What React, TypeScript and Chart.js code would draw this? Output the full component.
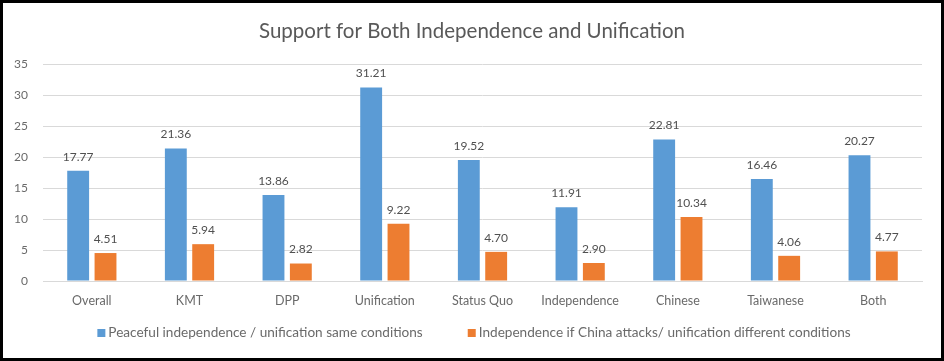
import React, { useEffect, useRef } from "react";
import { Chart, registerables } from "chart.js";

Chart.register(...registerables);

const categories = ["Overall", "KMT", "DPP", "Unification", "Status Quo", "Independence", "Chinese", "Taiwanese", "Both"];
const peacefulValues = [17.77, 21.36, 13.86, 31.21, 19.52, 11.91, 22.81, 16.46, 20.27];
const attackValues = [4.51, 5.94, 2.82, 9.22, 4.7, 2.9, 10.34, 4.06, 4.77];
const seriesNames = [
  "Peaceful independence / unification same conditions",
  "Independence if China attacks/ unification different conditions",
];
const titleText = "Support for Both Independence and Unification";

const FONT = "Lato, 'Open Sans', sans-serif";

const dataLabelPlugin = {
  id: "dataLabels",
  afterDatasetsDraw(chart: any) {
    const ctx = chart.ctx;
    ctx.save();
    ctx.font = `12px ${FONT}`;
    ctx.fillStyle = "#505050";
    ctx.textAlign = "center";
    ctx.textBaseline = "middle";
    chart.data.datasets.forEach((ds: any, di: number) => {
      const meta = chart.getDatasetMeta(di);
      meta.data.forEach((bar: any, i: number) => {
        const v = ds.data[i] as number;
        ctx.fillText(v.toFixed(2), bar.x, bar.y - 14);
      });
    });
    ctx.restore();
  },
};

const titleAndLegendPlugin = {
  id: "titleAndLegend",
  afterDraw(chart: any) {
    const ctx = chart.ctx;
    ctx.save();
    // title
    ctx.font = `20.5px ${FONT}`;
    ctx.fillStyle = "#595959";
    ctx.textAlign = "center";
    ctx.textBaseline = "middle";
    ctx.fillText(titleText, chart.width / 2, 28);
    // legend
    ctx.font = `13.6px ${FONT}`;
    ctx.textAlign = "left";
    const box = 8;
    const gap = 3;
    const spacing = 45;
    const items = chart.data.datasets.map((ds: any) => ({
      text: ds.label as string,
      color: ds.backgroundColor as string,
      w: ctx.measureText(ds.label).width,
    }));
    let total = 0;
    items.forEach((it: any, i: number) => {
      total += box + gap + it.w + (i > 0 ? spacing : 0);
    });
    let x = chart.width / 2 - total / 2 + 2;
    const y = 330;
    items.forEach((it: any) => {
      ctx.fillStyle = it.color;
      ctx.fillRect(x, y - box / 2, box, box);
      ctx.fillStyle = "#6a6a6a";
      ctx.fillText(it.text, x + box + gap, y);
      x += box + gap + it.w + spacing;
    });
    ctx.restore();
  },
};

export default function App() {
  const canvasRef = useRef<HTMLCanvasElement | null>(null);

  useEffect(() => {
    if (!canvasRef.current) return;
    const chart = new Chart(canvasRef.current, {
      type: "bar",
      data: {
        labels: categories,
        datasets: [
          {
            label: seriesNames[0],
            data: peacefulValues,
            backgroundColor: "#5B9BD5",
            categoryPercentage: 0.56,
            barPercentage: 0.8,
          },
          {
            label: seriesNames[1],
            data: attackValues,
            backgroundColor: "#ED7D31",
            categoryPercentage: 0.56,
            barPercentage: 0.8,
          },
        ],
      },
      options: {
        responsive: false,
        animation: false,
        layout: { padding: { left: 0, right: 19, top: 61, bottom: 42 } },
        plugins: {
          legend: { display: false },
          tooltip: { enabled: false },
          title: { display: false },
        },
        scales: {
          x: {
            grid: { display: false, drawTicks: false },
            border: { display: true, color: "#d9d9d9", width: 1 },
            ticks: {
              color: "#6a6a6a",
              font: { family: FONT, size: 12.5 },
              padding: 12,
              maxRotation: 0,
              autoSkip: false,
            },
            afterFit(scale: any) {
              scale.height = 35;
            },
          },
          y: {
            min: 0,
            max: 35,
            grid: { color: "#d9d9d9", drawTicks: false, lineWidth: 1 },
            border: { display: false },
            ticks: {
              stepSize: 5,
              color: "#6a6a6a",
              font: { family: FONT, size: 12 },
              padding: 15,
            },
            afterFit(scale: any) {
              scale.width = 40;
            },
          },
        },
      },
      plugins: [dataLabelPlugin, titleAndLegendPlugin],
    });
    return () => chart.destroy();
  }, []);

  return (
    <div
      style={{
        position: "absolute",
        left: 0,
        top: 0,
        width: 944,
        height: 361,
        boxSizing: "border-box",
        border: "3px solid #000",
        background: "#fff",
      }}
    >
      <canvas ref={canvasRef} width={938} height={355} style={{ display: "block" }} />
    </div>
  );
}
